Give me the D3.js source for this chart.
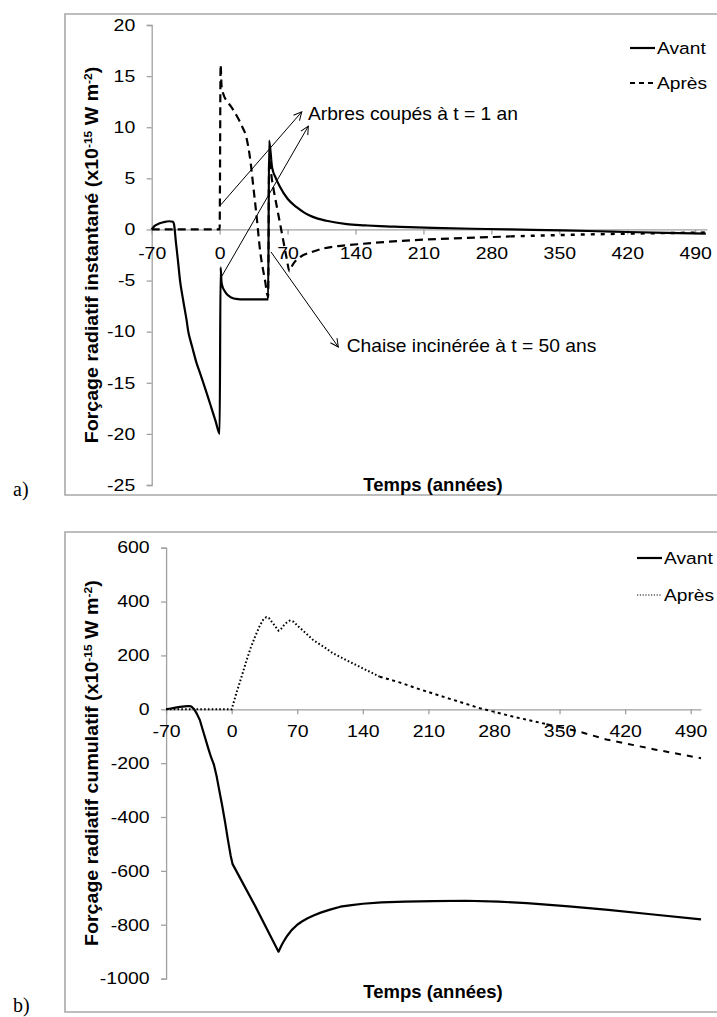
<!DOCTYPE html>
<html><head><meta charset="utf-8">
<script src="https://cdn.jsdelivr.net/npm/d3@7"></script>
<style>
html,body{margin:0;padding:0;background:#fff;}
svg{display:block;font-family:"Liberation Sans",Arial,sans-serif;}
</style></head>
<body><svg id="c" width="717" height="1017"></svg>
<script>
// ---------- DATA ----------
const xTicks = [-70, 0, 70, 140, 210, 280, 350, 420, 490];
const yTicksA = [20, 15, 10, 5, 0, -5, -10, -15, -20, -25];
const yTicksB = [600, 400, 200, 0, -200, -400, -600, -800, -1000];

// a) instantaneous forcing
const avantA_t = [-70,-67,-63,-58,-52,-48,-47,-45,-43,-40.8,-38,-36,-34,-32.3,-30,-28,-24,-20,-16.8,-12,-8,-4,0,1,2,3,5,8,12,17,25,35,50,51,54,58,62,70,79,88,96,110,131,150,165,186,220,260,300,337,380,420,460,501];
const avantA_v = [0,0.35,0.55,0.7,0.8,0.75,0.5,-1.3,-3.0,-5,-6.7,-7.8,-8.9,-10,-10.9,-11.6,-13,-14.1,-15,-16.4,-17.6,-18.8,-20,-3.7,-5.2,-5.6,-6.0,-6.4,-6.65,-6.8,-6.85,-6.85,-6.85,8.7,6.1,5.0,4.2,3.0,2.2,1.6,1.23,0.85,0.52,0.4,0.32,0.25,0.15,0.07,0,-0.07,-0.15,-0.25,-0.33,-0.4];
const apresA_t = [-70,0,1,2,4,9,14,20,24,27,29.5,32,34.7,38.2,41.6,46.7,50,51,54,57,61,65,69,72,75,83,95,107,125,148,175,200,250,300,350,400,450,501];
const apresA_v = [0,0,16.1,14.0,13.2,12.4,11.7,10.7,9.9,9.2,8.1,6.5,4.2,1.2,-2.0,-4.95,-6.6,6.8,4.8,3.2,1.2,-0.8,-2.8,-4.1,-3.5,-2.7,-2.2,-1.86,-1.6,-1.4,-1.2,-1.05,-0.85,-0.68,-0.55,-0.45,-0.37,-0.3];

// b) cumulative forcing
const avantB_t = [-70,-65,-60,-55,-50,-47,-45,-43,-40,-37,-34,-31,-28,-25,-22,-19,-16,-13,-10,-7,-4,-1,1,25,50,51,53,55,58,60,64,70,75,81,88,95,105,116,128,140,160,185,215,250,285,315,360,402,450,501];
const avantB_v = [0,3,6,9,11,12,12,10,0,-18,-40,-75,-110,-145,-178,-205,-250,-305,-360,-420,-485,-545,-575,-730,-900,-893,-878,-865,-848,-838,-820,-800,-788,-776,-765,-755,-744,-733,-727,-722,-717,-714,-712,-711,-714,-720,-732,-745,-762,-780];
const apresB_t = [-70,0,5,10,16,20,25,30,34,37,40,45,50,53,57,62,66,72,80,87,100,108,125,140,158,180,200,230,265,300,336,370,400,450,501];
const apresB_v = [0,0,60,115,183,225,270,310,335,342,338,315,292,300,318,329,325,305,280,257,228,208,178,152,121,99,75,42,4,-27,-55,-82,-112,-148,-182];

const seriesNames = ["Avant", "Après"];
const titleA = ["Forçage radiatif instantané (x10", "-15", " W m", "-2", ")"];
const titleB = ["Forçage radiatif cumulatif (x10", "-15", " W m", "-2", ")"];
const xTitle = "Temps (années)";
const annotA = [
  {text:"Arbres coupés à t = 1 an", tx:91, ty:10.75, arrows:[[1.1,2.4,84.6,11.5],[2.1,-4.6,91.4,10.1]]},
  {text:"Chaise incinérée à t = 50 ans", tx:130.9, ty:-11.95, arrows:[[52.9,-2.2,122.3,-11.5]]}
];

// ---------- DRAW ----------
const svg = d3.select("#c");
const FONT = '"Liberation Sans",Arial,sans-serif';
const axisGray = "#a0a0a0";

function stretch(sel, s){
  sel.each(function(){
    const t = d3.select(this);
    const x = +t.attr("x") || 0;
    t.attr("transform", `matrix(${s},0,0,1,${x*(1-s)},0)`);
  });
}

svg.append("defs").append("marker")
  .attr("id","arr").attr("viewBox","0 -5 10 10").attr("refX",9).attr("refY",0)
  .attr("markerWidth",10).attr("markerHeight",10).attr("markerUnits","userSpaceOnUse")
  .attr("orient","auto")
  .append("path").attr("d","M1,-4L9,0L1,4").attr("fill","none").attr("stroke","#000").attr("stroke-width",1);

function zip(t,v){return t.map((d,i)=>[d,v[i]]);}

function panel(cfg){
  const g = svg.append("g");
  g.append("path").attr("d",`M717,${cfg.frame[0]}H65V${cfg.frame[1]}H717`)
    .attr("fill","none").attr("stroke","#a8a8a8").attr("stroke-width",1.6);
  g.append("text").attr("x",13).attr("y",cfg.labelY).text(cfg.label)
    .attr("font-family",'"Liberation Serif","Times New Roman",serif').attr("font-size",20).attr("fill","#000");

  const x = d3.scaleLinear().domain(cfg.xd).range(cfg.xr);
  const y = d3.scaleLinear().domain(cfg.yd).range(cfg.yr);

  const ya = g.append("g").attr("transform",`translate(${cfg.xr[0]},0)`)
    .call(d3.axisLeft(y).tickValues(cfg.yTicks).tickSize(5).tickPadding(11.5).tickFormat(d=>String(d)));
  ya.select(".domain").attr("stroke",axisGray).attr("stroke-width",1.3);
  ya.selectAll(".tick line").attr("stroke",axisGray).attr("stroke-width",1.3);
  ya.selectAll(".tick text").attr("font-family",FONT).attr("font-size",16.5).attr("fill","#000").call(stretch,1.18);

  const xa = g.append("g").attr("transform",`translate(0,${y(0)})`)
    .call(d3.axisBottom(x).tickValues(xTicks).tickSize(5).tickSizeOuter(0).tickPadding(cfg.xPad).tickFormat(d=>String(d)));
  xa.select(".domain").attr("stroke",axisGray).attr("stroke-width",1.3);
  xa.selectAll(".tick line").attr("stroke",axisGray).attr("stroke-width",1.3);
  xa.selectAll(".tick text").attr("font-family",FONT).attr("font-size",16.5).attr("fill","#000").call(stretch,1.18);

  const line = d3.line().x(d=>x(d[0])).y(d=>y(d[1])).curve(cfg.curve);

  cfg.apres.forEach(seg=>{
    g.append("path").attr("d",line(seg.data)).attr("fill","none").attr("stroke","#000")
      .attr("stroke-width",seg.w).attr("stroke-dasharray",seg.dash);
  });
  g.append("path").attr("d",line(cfg.avant)).attr("fill","none").attr("stroke","#000")
    .attr("stroke-width",2.2).attr("stroke-linejoin","round");

  (cfg.annot||[]).forEach(a=>{
    a.arrows.forEach(r=>{
      g.append("line").attr("x1",x(r[0])).attr("y1",y(r[1])).attr("x2",x(r[2])).attr("y2",y(r[3]))
        .attr("stroke","#000").attr("stroke-width",1).attr("marker-end","url(#arr)");
    });
    g.append("text").attr("x",x(a.tx)).attr("y",y(a.ty)).text(a.text)
      .attr("font-family",FONT).attr("font-size",17.5).attr("fill","#000").call(stretch,1.1);
  });

  cfg.legend.forEach((L,i)=>{
    const ly = cfg.legY[i];
    g.append("line").attr("x1",cfg.legX).attr("x2",cfg.legX+25).attr("y1",ly).attr("y2",ly)
      .attr("stroke","#000").attr("stroke-width",L.w).attr("stroke-dasharray",L.dash);
    g.append("text").attr("x",cfg.legX+27).attr("y",ly+6).text(seriesNames[i])
      .attr("font-family",FONT).attr("font-size",17).attr("fill","#000").call(stretch,1.13);
  });

  g.append("text").attr("x",433).attr("y",cfg.xTitleY).attr("text-anchor","middle")
    .attr("font-family",FONT).attr("font-size",18.5).attr("font-weight","bold").text(xTitle);
  const yt = g.append("text").attr("transform",`translate(98,${(cfg.yr[0]+cfg.yr[1])/2}) rotate(-90) scale(1.09,1)`)
    .attr("text-anchor","middle").attr("font-family",FONT).attr("font-size",18).attr("font-weight","bold");
  cfg.ytitle.forEach((s,i)=>{
    const sup = (i===1||i===3);
    const ts = yt.append("tspan").text(s);
    if(sup){ ts.attr("font-size",11).attr("dy",-6); }
    else if(i>0){ ts.attr("dy",6); }
  });
}

const A_av = zip(avantA_t, avantA_v);
const A_ap = zip(apresA_t, apresA_v);
const B_av = zip(avantB_t, avantB_v);
const B_ap = zip(apresB_t, apresB_v);

panel({
  label:"a)", frame:[14,495], labelY:496, curve:d3.curveMonotoneX,
  xd:[-70,502], xr:[151.7,706.8], yd:[-25,20], yr:[485,25], yTicks:yTicksA, xPad:13,
  avant:A_av,
  apres:[
    {data:A_ap.filter(d=>d[0]<=330), dash:"8,5", w:2.2},
    {data:A_ap.filter(d=>d[0]>=300), dash:"4,6", w:2.4}
  ],
  annot:annotA,
  legX:630, legY:[48,83], legend:[{w:2.2,dash:null},{w:1.8,dash:"5,4"}],
  xTitleY:491, ytitle:titleA
});

panel({
  label:"b)", frame:[532,1012], labelY:1012, curve:d3.curveLinear,
  xd:[-70,501], xr:[166.1,701], yd:[-1000,600], yr:[978.6,547.7], yTicks:yTicksB, xPad:11,
  avant:B_av,
  apres:[
    {data:B_ap.filter(d=>d[0]<=158), dash:"1.6,2.2", w:2},
    {data:B_ap.filter(d=>d[0]>=158 && d[0]<=336), dash:"3,3.5", w:2},
    {data:B_ap.filter(d=>d[0]>=336), dash:"6,6", w:2}
  ],
  legX:637, legY:[558,595], legend:[{w:2.2,dash:null},{w:1.2,dash:"1.2,1.6"}],
  xTitleY:998, ytitle:titleB
});
</script></body></html>
